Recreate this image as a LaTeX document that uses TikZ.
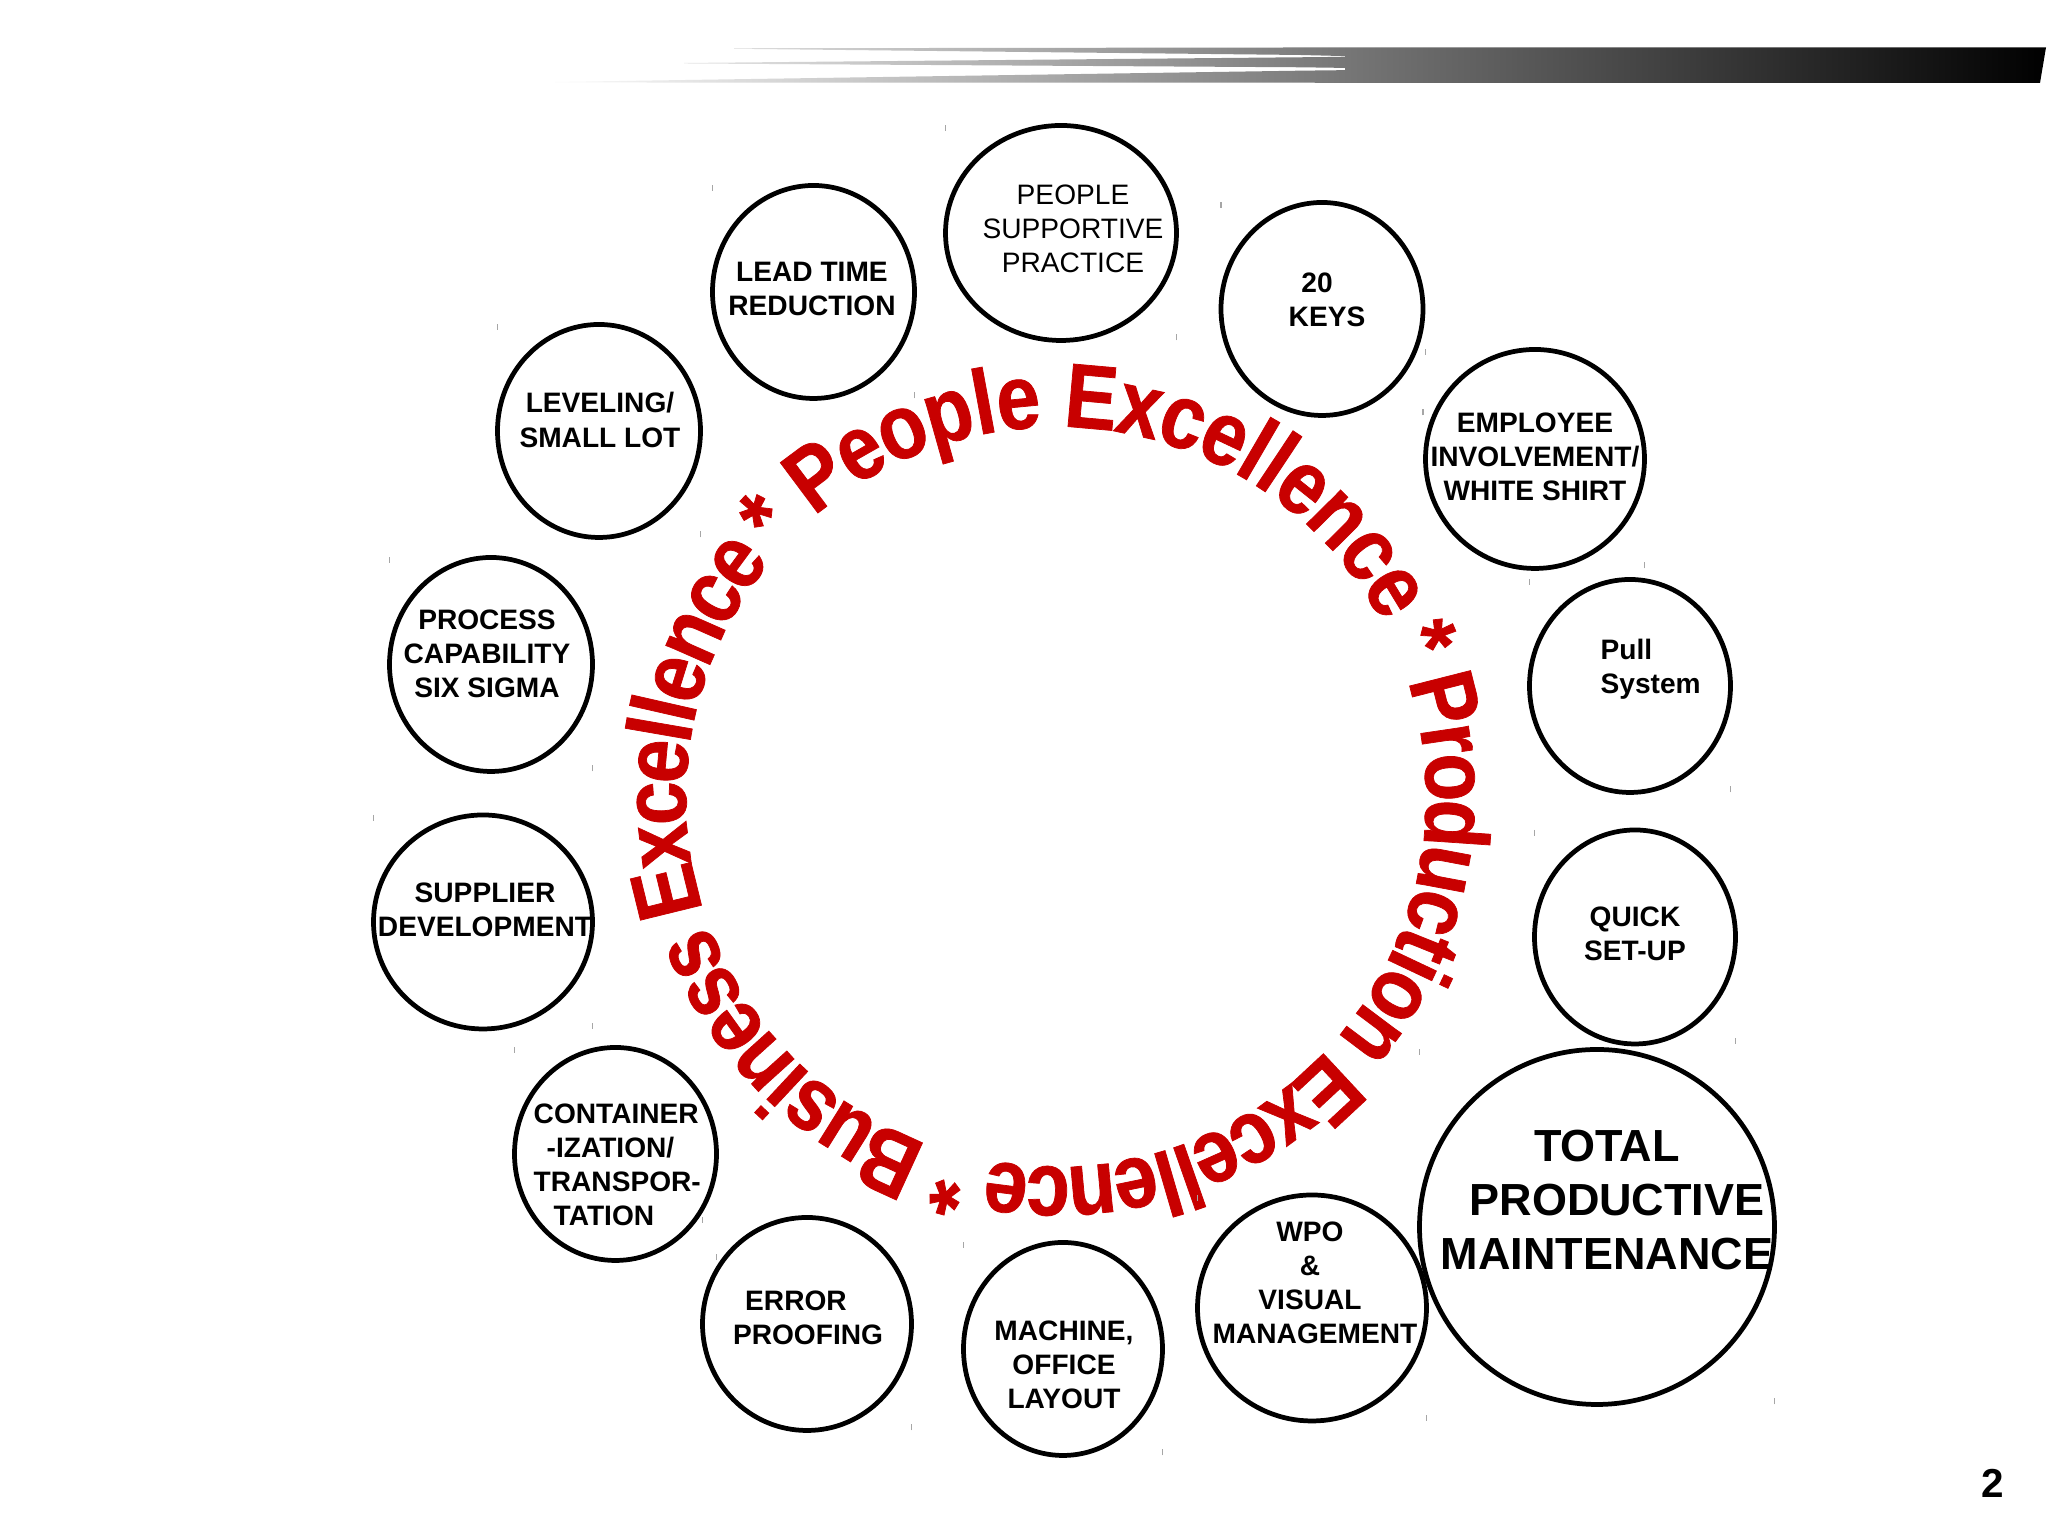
\documentclass[tikz,border=0pt]{standalone}
\usepackage{fontspec}
\setmainfont{Liberation Sans}
\newfontfamily\ringfont{Liberation Sans Bold}[FakeStretch=0.86,FakeBold=0.8]
\usetikzlibrary{shapes.geometric,decorations.text}
\definecolor{ringred}{RGB}{200,0,0}
\begin{document}
\begin{tikzpicture}[
  bubble/.style={draw, ellipse, line width=1.35pt, inner sep=0pt, outer sep=0pt},
  lbl/.style={font=\bfseries\fontsize{8}{9.7}\selectfont, align=center, inner sep=0pt},
  cornertick/.style={draw=gray!70, line width=0.35pt},
  ringtext/.style={decorate, decoration={text along path, text align=fit to path, raise=-0.40cm,
     text={|\ringfont\fontsize{26}{30}\selectfont\color{ringred}|#1}}}
]
\useasboundingbox (0,0) rectangle (20.48,15.36);
\fill[white] (0,0) rectangle (20.48,15.36);

% header bar
\begin{scope}
\clip (7.34,14.877) -- (13.00,14.885) -- (13.60,14.885) -- (13.60,14.795) -- (13.00,14.81) -- (7.34,14.872) -- cycle
      (6.84,14.73) -- (13.00,14.787) -- (13.50,14.792) -- (13.50,14.68) -- (13.00,14.687) -- (6.84,14.725) -- cycle
      (5.55,14.54) -- (13.00,14.653) -- (13.60,14.66) -- (13.60,14.53) -- (13.00,14.533) -- (5.55,14.535) -- cycle
      (13.45,14.885) -- (20.46,14.885) -- (20.40,14.53) -- (13.45,14.53) -- cycle;
\shade[left color=white, right color=black] (5.35,14.45) rectangle (20.48,14.95);
\end{scope}

% ring text
\coordinate (ringc) at (10.56,7.39);
\begin{scope}[shift={(ringc)}]
\path[ringtext={* People Excellence}] (138.52:4.10) arc[start angle=138.52, end angle=28.25, radius=4.10cm];
\path[ringtext={* Production Excellence}] (25.22:4.10) arc[start angle=25.22, end angle=-100.35, radius=4.10cm];
\path[ringtext={* Business Excellence}] (-103.38:4.10) arc[start angle=-103.38, end angle=-218.55, radius=4.10cm];
\end{scope}

% bubbles
\node[bubble, minimum width=2.31cm, minimum height=2.15cm] (c1) at (10.61,13.03) {};
\node[bubble, minimum width=2.02cm, minimum height=2.13cm] (c2) at (8.135,12.44) {};
\node[bubble, minimum width=2.02cm, minimum height=2.13cm] (c3) at (13.22,12.27) {};
\node[bubble, minimum width=2.03cm, minimum height=2.13cm] (c4) at (5.99,11.05) {};
\node[bubble, minimum width=2.19cm, minimum height=2.19cm] (c5) at (15.35,10.77) {};
\node[bubble, minimum width=2.01cm, minimum height=2.13cm] (c6) at (16.30,8.50) {};
\node[bubble, minimum width=2.03cm, minimum height=2.14cm] (c7) at (4.91,8.715) {};
\node[bubble, minimum width=2.19cm, minimum height=2.14cm] (c8) at (4.83,6.14) {};
\node[bubble, minimum width=2.01cm, minimum height=2.14cm] (c9) at (16.35,5.99) {};
\node[bubble, minimum width=2.02cm, minimum height=2.13cm] (c10) at (6.155,3.82) {};
\node[bubble, minimum width=3.55cm, minimum height=3.55cm] (c11) at (15.97,3.09) {};
\node[bubble, minimum width=2.09cm, minimum height=2.13cm] (c12) at (8.07,2.12) {};
\node[bubble, minimum width=1.99cm, minimum height=2.13cm] (c13) at (10.63,1.87) {};
\node[bubble, minimum width=2.29cm, minimum height=2.26cm] (c14) at (13.12,2.28) {};

% labels
\node[lbl, font=\mdseries\fontsize{8}{9.7}\selectfont] (t1) at (10.73,13.07) {PEOPLE\\SUPPORTIVE\\PRACTICE};
\node[lbl] (t2) at (8.12,12.47) {LEAD TIME\\REDUCTION};
\node[lbl] (t3) at (13.27,12.36) {20\hspace*{0.2cm}\\KEYS};
\node[lbl] (t4) at (6.00,11.16) {LEVELING/\\SMALL LOT};
\node[lbl] (t5) at (15.35,10.79) {EMPLOYEE\\INVOLVEMENT/\\WHITE SHIRT};
\node[lbl, align=left, anchor=north west] (t6) at (16.00,8.98) {Pull\\System};
\node[lbl] (t7) at (4.87,8.82) {PROCESS\\CAPABILITY\\SIX SIGMA};
\node[lbl] (t8) at (4.85,6.26) {SUPPLIER\\DEVELOPMENT};
\node[lbl] (t9) at (16.35,6.02) {QUICK\\SET-UP};
\node[lbl, align=left, anchor=west] (t10) at (5.33,3.71) {CONTAINER\\\hspace*{0.13cm}-IZATION/\\TRANSPOR-\\\hspace*{0.2cm}TATION};
\node[lbl, font=\bfseries\fontsize{12.8}{15.4}\selectfont] (t11) at (16.07,3.36) {TOTAL\\\hspace*{0.2cm}PRODUCTIVE\\MAINTENANCE};
\node[lbl] (t12) at (8.02,2.18) {ERROR\hspace*{0.12cm}\\\hspace*{0.12cm}PROOFING};
\node[lbl] (t13) at (10.64,1.71) {MACHINE,\\OFFICE\\LAYOUT};
\node[lbl] (t14) at (13.10,2.53) {WPO\\\&\hspace*{0.14cm}\\VISUAL\\\hspace*{0.1cm}MANAGEMENT};

% corner ticks
\foreach \c in {c1,c2,c3,c4,c5,c6,c7,c8,c9,c10,c11,c12,c13,c14}{
  \draw[cornertick] (\c.north -| \c.west) -- ++(0,-0.06);
  \draw[cornertick] (\c.south -| \c.east) -- ++(0,0.06);
}

% page number
\node[font=\bfseries\fontsize{11.5}{13}\selectfont, inner sep=0pt] (pnum) at (19.93,0.525) {2};
\end{tikzpicture}
\end{document}
